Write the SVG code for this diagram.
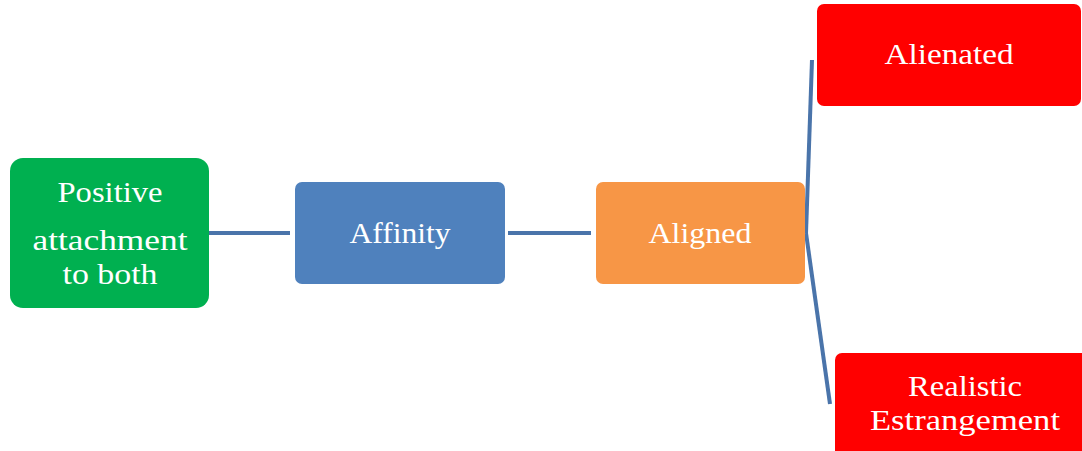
<svg xmlns="http://www.w3.org/2000/svg" width="1082" height="451" viewBox="0 0 1082 451">
<style>
text{font-family:"Liberation Serif","DejaVu Serif",serif;font-size:30px;fill:#fff;text-anchor:middle}
.c{stroke:#4A74AA;stroke-width:4;fill:none}
</style>
<rect width="1082" height="451" fill="#fff"/>
<g id="connectors">
<line class="c" x1="209" y1="233" x2="290" y2="233" stroke="#3E5F8E"/>
<line class="c" x1="508" y1="233" x2="591" y2="233"/>
<path class="c" d="M806,233 L812,60"/>
<path class="c" d="M806,233 L830,404"/>
</g>
<g id="positive">
<rect x="10" y="158" width="199" height="150" rx="13" fill="#00B050"/>
<text x="110" y="202" textLength="105" lengthAdjust="spacingAndGlyphs">Positive</text>
<text x="110" y="250" textLength="155" lengthAdjust="spacingAndGlyphs">attachment</text>
<text x="110" y="284" textLength="95" lengthAdjust="spacingAndGlyphs">to both</text>
</g>
<g id="affinity">
<rect x="295" y="182" width="210" height="102" rx="7" fill="#4F81BD"/>
<text x="400" y="243" textLength="101" lengthAdjust="spacingAndGlyphs">Affinity</text>
</g>
<g id="aligned">
<rect x="596" y="182" width="209" height="102" rx="7" fill="#F79646"/>
<text x="700" y="243" textLength="103" lengthAdjust="spacingAndGlyphs">Aligned</text>
</g>
<g id="alienated">
<rect x="817" y="4" width="264" height="102" rx="7" fill="#FF0000"/>
<text x="949" y="64" textLength="129" lengthAdjust="spacingAndGlyphs">Alienated</text>
</g>
<g id="realistic">
<rect x="835" y="353" width="260" height="110" rx="7" fill="#FF0000"/>
<text x="965" y="396" textLength="114" lengthAdjust="spacingAndGlyphs">Realistic</text>
<text x="965" y="430" textLength="190" lengthAdjust="spacingAndGlyphs">Estrangement</text>
</g>
</svg>
